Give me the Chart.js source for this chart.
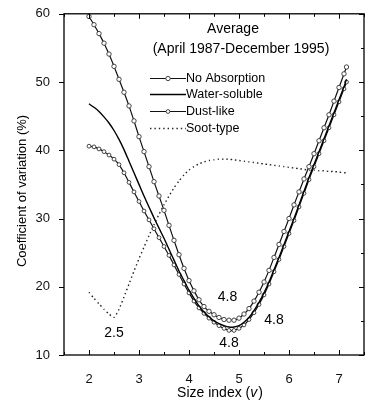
<!DOCTYPE html>
<html lang="en">
<head>
  <meta charset="UTF-8" />
  <title>Coefficient of variation vs size index</title>
  <script src="https://cdn.jsdelivr.net/npm/chart.js@4.4.0/dist/chart.umd.min.js"></script>
  <style>
    html, body { margin: 0; padding: 0; background: #fff; }
    canvas { display: block; }
  </style>
</head>
<body>
  <canvas id="cv" width="375" height="404"></canvas>

  <script>
    // size index values (x)
    const sizeIndex = [2.0,2.1,2.2,2.3,2.4,2.5,2.6,2.7,2.8,2.9,
                       3.0,3.1,3.2,3.3,3.4,3.5,3.6,3.7,3.8,3.9,
                       4.0,4.1,4.2,4.3,4.4,4.5,4.6,4.7,4.8,4.9,
                       5.0,5.1,5.2,5.3,5.4,5.5,5.6,5.7,5.8,5.9,
                       6.0,6.1,6.2,6.3,6.4,6.5,6.6,6.7,6.8,6.9,
                       7.0,7.1,7.15];

    // coefficient of variation (%) per aerosol type
    const noAbsorption = [59.6,58.4,57.1,55.7,54.1,52.3,50.4,48.5,46.5,44.3,
                          42.0,39.8,37.6,35.4,33.3,31.2,29.0,26.8,24.7,22.7,
                          20.9,19.4,18.1,17.1,16.4,15.9,15.5,15.2,15.1,15.1,
                          15.4,16.0,16.8,17.9,19.2,20.7,22.4,24.3,26.2,28.1,
                          30.0,32.0,33.9,35.8,37.6,39.5,41.4,43.3,45.2,47.2,
                          49.2,51.2,52.2];
    const waterSoluble = [46.8,46.3,45.7,44.9,44.0,42.9,41.6,40.1,38.4,36.7,
                          35.0,33.3,31.7,30.1,28.6,27.1,25.5,23.9,22.3,20.9,
                          19.5,18.3,17.2,16.3,15.6,15.0,14.6,14.3,14.1,14.1,
                          14.3,14.8,15.5,16.5,17.7,19.1,20.7,22.5,24.3,26.2,
                          28.1,30.0,32.0,34.0,36.0,37.9,39.8,41.7,43.6,45.5,
                          47.4,49.3,50.4];
    const dustLike = [40.6,40.5,40.2,39.8,39.3,38.7,37.9,36.7,35.3,33.9,
                      32.5,31.1,29.8,28.5,27.2,25.9,24.6,23.2,21.8,20.4,
                      19.1,17.9,16.9,16.1,15.4,14.8,14.3,13.9,13.6,13.6,
                      13.9,14.4,15.2,16.2,17.4,18.8,20.4,22.2,24.0,25.9,
                      27.8,29.7,31.7,33.7,35.7,37.6,39.5,41.4,43.3,45.2,
                      47.1,49.0,50.0];
    const sootType = [19.2,18.3,17.5,16.7,16.0,15.5,16.7,18.5,20.4,22.3,
                      24.1,25.8,27.5,29.1,30.6,32.0,33.3,34.5,35.5,36.4,
                      37.1,37.6,38.0,38.3,38.5,38.6,38.7,38.7,38.7,38.6,
                      38.5,38.4,38.3,38.2,38.1,38.0,37.9,37.8,37.7,37.6,
                      37.5,37.4,37.3,37.2,37.1,37.1,37.0,37.0,36.9,36.9,
                      36.8,36.7,36.7];

    const seriesNames = ['No Absorption', 'Water-soluble', 'Dust-like', 'Soot-type'];
    const titleLines = ['Average', '(April 1987-December 1995)'];
    const yTitle = 'Coefficient of variation (%)';

    // minimum labels (x, y in data units)
    const minLabelX = [2.5, 4.77, 5.7, 4.8];
    const minLabelY = [13.2, 18.5, 15.1, 11.7];
    const minLabelText = ['2.5', '4.8', '4.8', '4.8'];

    const FONT = "'Liberation Sans', Arial, Helvetica, sans-serif";

    const pts = ys => ys.map((y, i) => ({ x: sizeIndex[i], y }));

    // box, ticks, titles, legend and labels
    const decorations = {
      id: 'decorations',
      afterDatasetsDraw(chart) {
        const { ctx, chartArea: a, scales: { x, y } } = chart;
        ctx.save();
        ctx.strokeStyle = '#000';
        ctx.lineWidth = 1.3;
        ctx.strokeRect(a.left, a.top, a.right - a.left, a.bottom - a.top);

        ctx.lineWidth = 1;
        ctx.beginPath();
        x.ticks.forEach(t => {
          const px = Math.round(x.getPixelForValue(t.value)) + 0.5;
          const len = Number.isInteger(t.value) ? 5 : 3;
          ctx.moveTo(px, a.bottom); ctx.lineTo(px, a.bottom - len);
          ctx.moveTo(px, a.top); ctx.lineTo(px, a.top + len);
        });
        y.ticks.forEach(t => {
          const py = Math.round(y.getPixelForValue(t.value)) + 0.5;
          const major = t.value % 10 === 0;
          const len = major ? 5 : 3;
          if (major) { ctx.moveTo(a.left, py); ctx.lineTo(a.left - 5, py); }
          ctx.moveTo(a.right, py); ctx.lineTo(a.right - len, py);
        });
        ctx.stroke();

        // title inside plot
        ctx.fillStyle = '#000';
        ctx.textAlign = 'center';
        ctx.textBaseline = 'middle';
        ctx.font = '14px ' + FONT;
        ctx.fillText(titleLines[0], 233, 29);
        ctx.fillText(titleLines[1], 241, 49);

        // minimum labels
        minLabelText.forEach((s, i) => {
          ctx.fillText(s, x.getPixelForValue(minLabelX[i]), y.getPixelForValue(minLabelY[i]));
        });

        // y axis title
        ctx.save();
        ctx.translate(22, 191);
        ctx.rotate(-Math.PI / 2);
        ctx.font = '13px ' + FONT;
        ctx.fillText(yTitle, 0, 0);
        ctx.restore();

        // x axis title with italic v
        ctx.textBaseline = 'alphabetic';
        ctx.textAlign = 'left';
        const p1 = 'Size index (', p3 = ')';
        ctx.font = '14px ' + FONT;
        const w1 = ctx.measureText(p1).width;
        ctx.font = 'italic 14px ' + FONT;
        const w2 = ctx.measureText('v').width + 1;
        ctx.font = '14px ' + FONT;
        const w3 = ctx.measureText(p3).width;
        const sx = (a.left + a.right) / 2 + 6 - (w1 + w2 + w3) / 2;
        const by = 397;
        ctx.fillText(p1, sx, by);
        ctx.font = 'italic 14px ' + FONT;
        ctx.fillText('v', sx + w1, by);
        ctx.font = '14px ' + FONT;
        ctx.fillText(p3, sx + w1 + w2, by);

        // legend
        ctx.font = '12.5px ' + FONT;
        ctx.textBaseline = 'middle';
        const rows = [78, 94, 111, 128];
        chart.data.datasets.forEach((ds, i) => {
          const ry = rows[i] + 0.5;
          ctx.save();
          ctx.strokeStyle = ds.borderColor;
          ctx.lineWidth = ds.borderWidth;
          ctx.setLineDash(ds.borderDash || []);
          ctx.beginPath();
          ctx.moveTo(150, ry); ctx.lineTo(186, ry);
          ctx.stroke();
          ctx.restore();
          if (ds.pointRadius > 0) {
            ctx.beginPath();
            ctx.arc(168, ry, ds.pointRadius, 0, Math.PI * 2);
            ctx.fillStyle = '#fff';
            ctx.fill();
            ctx.strokeStyle = ds.pointBorderColor;
            ctx.lineWidth = ds.pointBorderWidth;
            ctx.stroke();
          }
          ctx.fillStyle = '#000';
          ctx.fillText(ds.label, 186, ry);
        });
        ctx.restore();
      }
    };

    new Chart(document.getElementById('cv'), {
      type: 'line',
      data: {
        datasets: [
          {
            label: seriesNames[0], data: pts(noAbsorption),
            borderColor: '#111', borderWidth: 1.2,
            pointRadius: 2.2, pointBackgroundColor: '#fff',
            pointBorderColor: '#333', pointBorderWidth: 0.9, tension: 0.2
          },
          {
            label: seriesNames[1], data: pts(waterSoluble),
            borderColor: '#000', borderWidth: 1.4,
            pointRadius: 0, tension: 0.2
          },
          {
            label: seriesNames[2], data: pts(dustLike),
            borderColor: '#111', borderWidth: 1.2,
            pointRadius: 1.9, pointBackgroundColor: '#fff',
            pointBorderColor: '#333', pointBorderWidth: 0.9, tension: 0.2
          },
          {
            label: seriesNames[3], data: pts(sootType),
            borderColor: '#222', borderWidth: 1.4, borderDash: [1.4, 3],
            pointRadius: 0, tension: 0.2
          }
        ]
      },
      options: {
        responsive: false,
        animation: false,
        devicePixelRatio: 1,
        layout: { padding: { top: 12, right: 11, left: 0, bottom: 0 } },
        plugins: { legend: { display: false }, tooltip: { enabled: false } },
        scales: {
          x: {
            type: 'linear', min: 1.5, max: 7.5,
            grid: { display: false }, border: { display: false },
            afterFit: s => { s.height = 49; },
            ticks: {
              stepSize: 0.5, autoSkip: false, maxRotation: 0, padding: 9,
              color: '#111', font: { family: FONT, size: 13 },
              callback: v => Number.isInteger(v) ? String(v) : ''
            }
          },
          y: {
            min: 10, max: 60,
            grid: { display: false }, border: { display: false },
            afterFit: s => { s.width = 64; },
            ticks: {
              stepSize: 5, padding: 6,
              color: '#111', font: { family: FONT, size: 13 },
              callback: v => v % 10 === 0 ? String(v) : ''
            }
          }
        }
      },
      plugins: [decorations]
    });
  </script>
</body>
</html>
